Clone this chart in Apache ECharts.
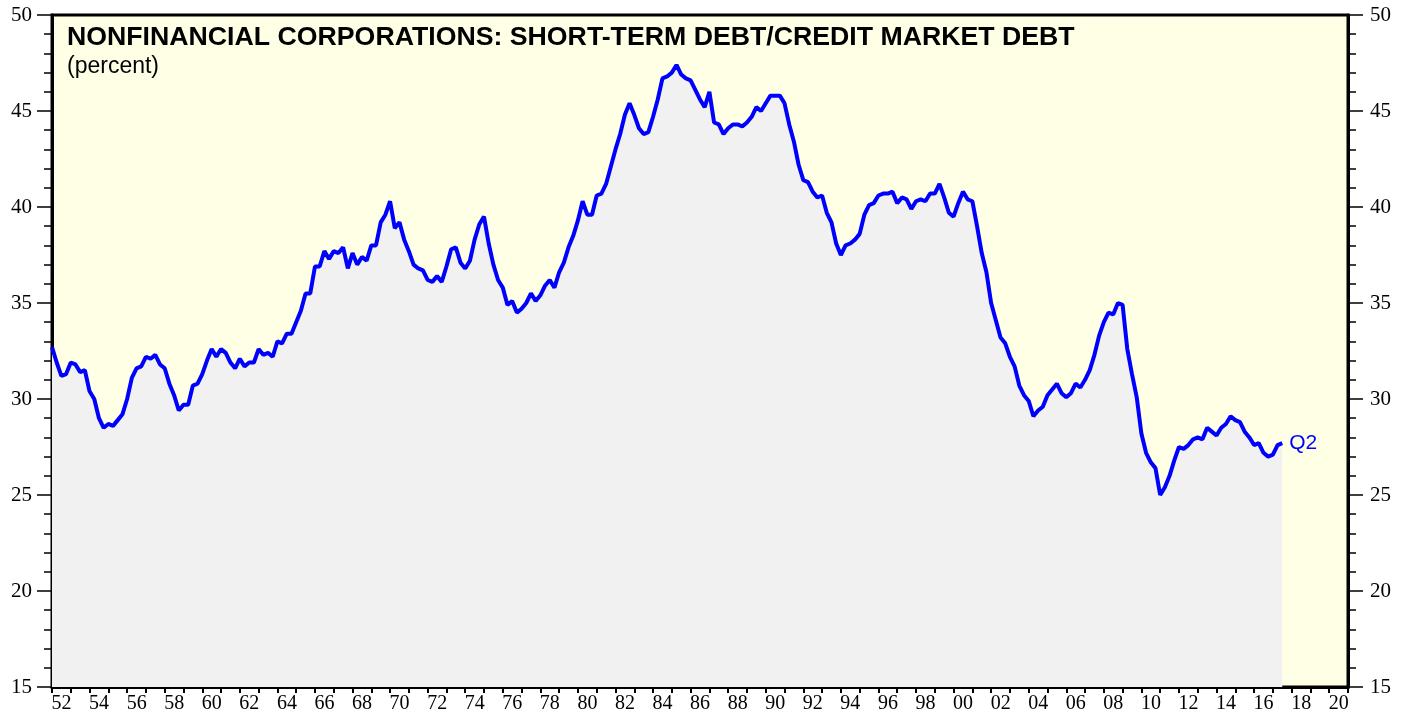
<!DOCTYPE html>
<html>
<head>
<meta charset="utf-8">
<title>Nonfinancial corporations: short-term debt / credit market debt</title>
<script src="https://cdn.jsdelivr.net/npm/echarts@6/dist/echarts.min.js"></script>
<style>
  html, body { margin: 0; padding: 0; background: #fff; }
  #chart { width: 1407px; height: 721px; }
</style>
</head>
<body>
<div id="chart"></div>
<script>
// quarterly series, first point at 1952.00, one row per year (Q1..Q4)
var firstYear = 1952;
var stepYears = 0.25;
var shortTermShare = [
  32.7, 31.9, 31.2, 31.3,   // 1952
  31.9, 31.8, 31.4, 31.5,
  30.4, 30.0, 29.0, 28.5,
  28.7, 28.6, 28.9, 29.2,
  30.0, 31.1, 31.6, 31.7,   // 1956
  32.2, 32.1, 32.3, 31.8,
  31.6, 30.8, 30.2, 29.4,
  29.7, 29.7, 30.7, 30.8,
  31.3, 32.0, 32.6, 32.2,   // 1960
  32.6, 32.4, 31.9, 31.6,
  32.1, 31.7, 31.9, 31.9,
  32.6, 32.3, 32.4, 32.2,
  33.0, 32.9, 33.4, 33.4,   // 1964
  34.0, 34.6, 35.5, 35.5,
  36.9, 36.9, 37.7, 37.3,
  37.7, 37.6, 37.9, 36.8,
  37.6, 37.0, 37.4, 37.2,   // 1968
  38.0, 38.0, 39.2, 39.6,
  40.3, 38.9, 39.2, 38.3,
  37.7, 37.0, 36.8, 36.7,
  36.2, 36.1, 36.4, 36.1,   // 1972
  36.9, 37.8, 37.9, 37.1,
  36.8, 37.2, 38.3, 39.1,
  39.5, 38.1, 37.0, 36.2,
  35.8, 34.9, 35.1, 34.5,   // 1976
  34.7, 35.0, 35.5, 35.1,
  35.4, 35.9, 36.2, 35.8,
  36.6, 37.1, 37.9, 38.5,
  39.3, 40.3, 39.6, 39.6,   // 1980
  40.6, 40.7, 41.2, 42.1,
  43.0, 43.8, 44.8, 45.4,
  44.8, 44.1, 43.8, 43.9,
  44.7, 45.6, 46.7, 46.8,   // 1984
  47.0, 47.4, 46.9, 46.7,
  46.6, 46.1, 45.6, 45.2,
  46.0, 44.4, 44.3, 43.8,
  44.1, 44.3, 44.3, 44.2,   // 1988
  44.4, 44.7, 45.2, 45.0,
  45.4, 45.8, 45.8, 45.8,
  45.4, 44.3, 43.4, 42.2,
  41.4, 41.3, 40.8, 40.5,   // 1992
  40.6, 39.7, 39.2, 38.1,
  37.5, 38.0, 38.1, 38.3,
  38.6, 39.6, 40.1, 40.2,
  40.6, 40.7, 40.7, 40.8,   // 1996
  40.2, 40.5, 40.4, 39.9,
  40.3, 40.4, 40.3, 40.7,
  40.7, 41.2, 40.5, 39.7,
  39.5, 40.2, 40.8, 40.4,   // 2000
  40.3, 39.0, 37.6, 36.6,
  35.0, 34.1, 33.2, 32.9,
  32.2, 31.7, 30.7, 30.2,
  29.9, 29.1, 29.4, 29.6,   // 2004
  30.2, 30.5, 30.8, 30.3,
  30.1, 30.3, 30.8, 30.6,
  31.0, 31.5, 32.3, 33.3,
  34.0, 34.5, 34.4, 35.0,   // 2008
  34.9, 32.6, 31.3, 30.1,
  28.2, 27.2, 26.7, 26.4,
  25.0, 25.4, 26.0, 26.8,
  27.5, 27.4, 27.6, 27.9,   // 2012
  28.0, 27.9, 28.5, 28.3,
  28.1, 28.5, 28.7, 29.1,
  28.9, 28.8, 28.3, 28.0,
  27.6, 27.7, 27.2, 27.0,   // 2016
  27.1, 27.6, 27.7
];
var xRange = [1952, 2021];
var yRange = [15, 50];
var lastLabel = 'Q2';
var titleText = 'NONFINANCIAL CORPORATIONS: SHORT-TERM DEBT/CREDIT MARKET DEBT';
var unitText = '(percent)';
var sourceText = 'yardeni.com';

var seriesData = shortTermShare.map(function (v, i) {
  return [firstYear + i * stepYears, v];
});

var serif = '"Liberation Serif", "Times New Roman", serif';
var sans = '"Liberation Sans", Arial, Helvetica, sans-serif';

var chart = echarts.init(document.getElementById('chart'), null, { renderer: 'canvas' });

var yAxisBase = {
  type: 'value',
  min: yRange[0],
  max: yRange[1],
  interval: 5,
  axisLine: { show: true, lineStyle: { color: '#000', width: 3 } },
  axisTick: { show: true, length: 15, lineStyle: { color: '#000', width: 1.5 } },
  minorTick: { show: true, splitNumber: 5, length: 8, lineStyle: { color: '#000', width: 1.5 } },
  splitLine: { show: false },
  axisLabel: { fontFamily: serif, fontSize: 21, color: '#000' }
};

chart.setOption({
  animation: false,
  backgroundColor: '#fff',
  graphic: [{
    type: 'text',
    left: 67,
    top: 24,
    style: {
      text: titleText,
      font: 'bold 26.7px ' + sans,
      fill: '#000'
    }
  }, {
    type: 'text',
    left: 67,
    top: 55,
    style: {
      text: unitText,
      font: '23px ' + sans,
      fill: '#000'
    }
  }, {
    type: 'text',
    left: 64,
    top: 662,
    style: {
      text: sourceText,
      font: 'italic bold 20px ' + serif,
      fill: '#000'
    }
  }],
  grid: {
    left: 52, right: 59, top: 15, bottom: 34,
    show: true,
    backgroundColor: '#ffffe6',
    borderColor: '#000',
    borderWidth: 3
  },
  xAxis: {
    type: 'value',
    min: xRange[0],
    max: xRange[1],
    interval: 1,
    axisLine: { show: true, onZero: false, lineStyle: { color: '#000', width: 3 } },
    axisTick: { show: true, length: 6, lineStyle: { color: '#000', width: 2 } },
    splitLine: { show: false },
    axisLabel: {
      fontFamily: serif,
      fontSize: 20,
      color: '#000',
      margin: 7,
      padding: [0, 0, 0, 19],
      formatter: function (v) {
        if (v % 2 !== 0 || v >= xRange[1]) return '';
        var s = String(v % 100);
        return s.length < 2 ? '0' + s : s;
      }
    }
  },
  yAxis: [
    Object.assign({}, yAxisBase, { position: 'left', axisLabel: Object.assign({}, yAxisBase.axisLabel, { margin: 20 }) }),
    Object.assign({}, yAxisBase, { position: 'right', axisLabel: Object.assign({}, yAxisBase.axisLabel, { margin: 22 }) })
  ],
  series: [{
    type: 'line',
    data: seriesData,
    yAxisIndex: 0,
    showSymbol: false,
    lineStyle: { color: '#0000ff', width: 4 },
    itemStyle: { color: '#0000ff' },
    areaStyle: { color: '#f1f1f1', opacity: 1, origin: 'start' },
    endLabel: {
      show: true,
      formatter: lastLabel,
      color: '#0000ff',
      fontFamily: sans,
      fontSize: 21,
      distance: 7
    },
    z: 3
  }]
});
</script>
</body>
</html>
